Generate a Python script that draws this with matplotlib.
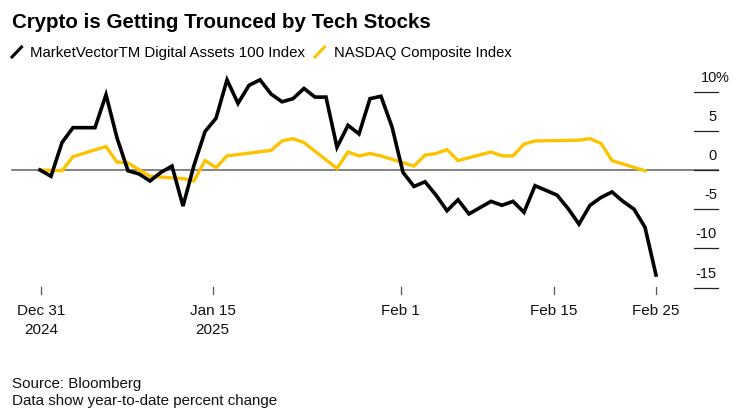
import numpy as np
import pandas as pd
import matplotlib
matplotlib.use('Agg')
import matplotlib.pyplot as plt

plt.rcParams['font.family'] = ['Liberation Sans', 'DejaVu Sans']

# MarketVector Digital Assets 100 Index, YTD % change (every calendar day)
crypto_dates = pd.date_range('2024-12-31', '2025-02-25', freq='D')
crypto_vals = [0, -0.8, 3.5, 5.4, 5.4, 5.4, 9.6, 4.1, -0.1, -0.5,
               -1.4, -0.3, 0.5, -4.6, 0.6, 4.9, 6.6, 11.5, 8.5, 10.8,
               11.5, 9.7, 8.7, 9.1, 10.4, 9.3, 9.3, 2.9, 5.7, 4.6,
               9.1, 9.4, 5.5, -0.3, -2.1, -1.5, -3.2, -5.2, -3.8, -5.6,
               -4.8, -4.0, -4.5, -4.0, -5.4, -2.0, -2.6, -3.2, -4.9, -6.9,
               -4.5, -3.5, -2.8, -4.0, -5.0, -7.3, -13.4]

# NASDAQ Composite, YTD % change (trading days)
nasdaq_dates = pd.to_datetime([
    '2024-12-31', '2025-01-02', '2025-01-03', '2025-01-06', '2025-01-07',
    '2025-01-08', '2025-01-10', '2025-01-13', '2025-01-14', '2025-01-15',
    '2025-01-16', '2025-01-17', '2025-01-21', '2025-01-22', '2025-01-23',
    '2025-01-24', '2025-01-27', '2025-01-28', '2025-01-29', '2025-01-30',
    '2025-01-31', '2025-02-03', '2025-02-04', '2025-02-05', '2025-02-06',
    '2025-02-07', '2025-02-10', '2025-02-11', '2025-02-12', '2025-02-13',
    '2025-02-14', '2025-02-18', '2025-02-19', '2025-02-20', '2025-02-21',
    '2025-02-24'])
nasdaq_vals = [0, -0.1, 1.7, 3.0, 1.0, 0.9, -0.8, -1.1, -1.4, 1.2,
               0.3, 1.8, 2.5, 3.7, 4.0, 3.5, 0.2, 2.3, 1.8, 2.1,
               1.8, 0.5, 1.9, 2.1, 2.6, 1.2, 2.3, 1.8, 1.8, 3.3,
               3.7, 3.8, 4.0, 3.4, 1.2, -0.1]

y_ticks = [10, 5, 0, -5, -10, -15]
x_tick_labels = ['Dec 31\n2024', 'Jan 15\n2025', 'Feb 1', 'Feb 15', 'Feb 25']
x_tick_days = [0.1, 15.7, 32.8, 46.7, 56.0]

start = crypto_dates[0]
cx = (crypto_dates - start).days.values
nx = (nasdaq_dates - start).days.values

BLACK = '#000000'
YELLOW = '#FDC300'

fig = plt.figure(figsize=[7.4, 4.16], dpi=100)
ax = fig.add_axes([0, 0, 1, 1])
ax.axis('off')

# map data to pixels: 11 px per day starting at x=40, 7.84 px per % with 0 at y=170
ppd, ppv = 11.0, 7.84
ax.set_xlim(-40 / ppd, 700 / ppd)
ax.set_ylim((170 - 416) / ppv, 170 / ppv)

def px(x):
    return (x - 40) / ppd

# zero line
ax.plot([px(12), px(718)], [0, 0], color='#6e6e6e', lw=1.2, zorder=1)

ax.plot(nx, nasdaq_vals, color=YELLOW, lw=2.4, solid_joinstyle='miter', zorder=2)
ax.plot(cx, crypto_vals, color=BLACK, lw=2.6, solid_joinstyle='miter', zorder=3)

# right axis: short lines with labels above
for v in y_ticks:
    ax.plot([px(694), px(718)], [v, v], color='#222222', lw=0.9)
    ax.annotate(str(v), (px(717), v), xytext=(0, 7.2),
                textcoords='offset points', ha='right', va='baseline',
                fontsize=10.5, color='#111111')
    if v == y_ticks[0]:
        ax.annotate('%', (px(716), v), xytext=(0, 7.2),
                    textcoords='offset points', ha='left', va='baseline',
                    fontsize=10.5, color='#111111')

# bottom date ticks
y_tick_top = (170 - 287) / ppv
y_tick_bot = (170 - 294) / ppv
for d, lab in zip(x_tick_days, x_tick_labels):
    ax.plot([d, d], [y_tick_top, y_tick_bot], color='#555555', lw=0.9)
    ax.text(d, (170 - 304) / ppv, lab, ha='center', va='top',
            fontsize=11, linespacing=1.45, color='#111111')

# title and legend (figure pixel coords)
W, H = 740, 416
fig.text(12 / W, 1 - 27.5 / H, 'Crypto is Getting Trounced by Tech Stocks',
         fontsize=14.8, fontweight='bold', va='baseline', ha='left')
fig.add_artist(plt.Line2D([12 / W, 21.5 / W], [1 - 57 / H, 1 - 47 / H],
                          color=BLACK, lw=2.2))
fig.text(30 / W, 1 - 57 / H, 'MarketVectorTM Digital Assets 100 Index',
         fontsize=10.8, va='baseline', ha='left')
fig.add_artist(plt.Line2D([315 / W, 324.5 / W], [1 - 57 / H, 1 - 47 / H],
                          color=YELLOW, lw=2.2))
fig.text(334 / W, 1 - 57 / H, 'NASDAQ Composite Index',
         fontsize=10.6, va='baseline', ha='left')

fig.text(12 / W, 1 - 388 / H, 'Source: Bloomberg', fontsize=10.9,
         va='baseline', ha='left', color='#111111')
fig.text(12 / W, 1 - 405 / H, 'Data show year-to-date percent change',
         fontsize=10.9, va='baseline', ha='left', color='#111111')

fig.savefig('out.png', dpi=100)
